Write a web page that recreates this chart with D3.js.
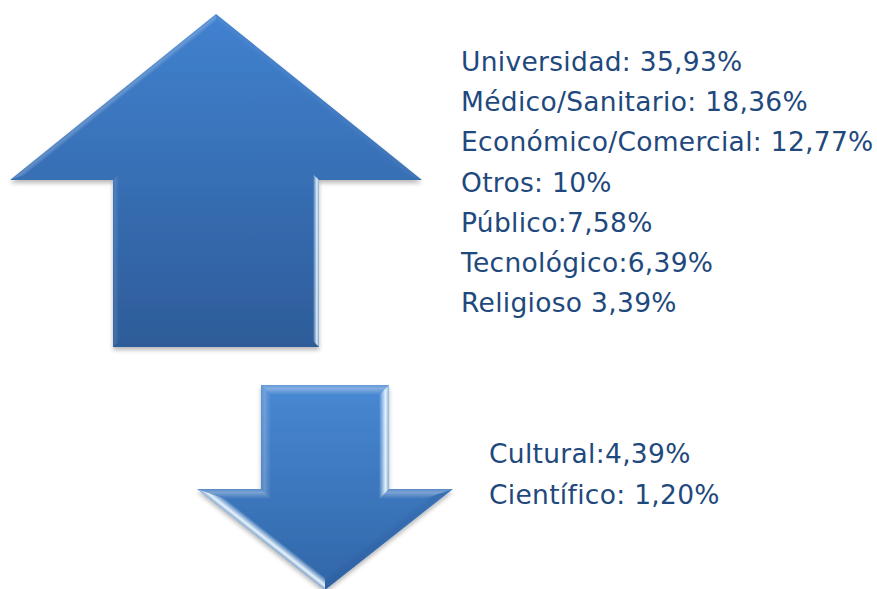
<!DOCTYPE html>
<html><head><meta charset="utf-8">
<script src="https://cdnjs.cloudflare.com/ajax/libs/d3/7.8.5/d3.min.js"></script>
<style>html,body{margin:0;padding:0;background:#fff;}svg{display:block;}</style>
</head><body>
<script>
// Data
const upCategories = ["Universidad", "Médico/Sanitario", "Económico/Comercial", "Otros", "Público", "Tecnológico", "Religioso"];
const upValues = [35.93, 18.36, 12.77, 10, 7.58, 6.39, 3.39];
const upDecimals = [2, 2, 2, 0, 2, 2, 2];
const upSeparators = [": ", ": ", ": ", ": ", ":", ":", " "];
const downCategories = ["Cultural", "Científico"];
const downValues = [4.39, 1.20];
const downDecimals = [2, 2];
const downSeparators = [":", ": "];

const W = 877, H = 589;
const svg = d3.select("body").append("svg").attr("width", W).attr("height", H);
const defs = svg.append("defs");

function fmt(v, d) { return d3.format("." + d + "f")(v).replace(".", ","); }

function grad(id, c1, c2) {
  const g = defs.append("linearGradient").attr("id", id).attr("x1", 0).attr("y1", 0).attr("x2", 0).attr("y2", 1);
  g.append("stop").attr("offset", "0%").attr("stop-color", c1);
  g.append("stop").attr("offset", "100%").attr("stop-color", c2);
}
grad("gUp", "#4181cf", "#2d5c99");
grad("gDown", "#4888d3", "#3166a8");
const f = defs.append("filter").attr("id", "shadow").attr("x", "-10%").attr("y", "-10%").attr("width", "120%").attr("height", "130%");
f.append("feDropShadow").attr("dx", 0).attr("dy", 3).attr("stdDeviation", 2).attr("flood-color", "#000").attr("flood-opacity", 0.28);

function inset(P, d) {
  const n = P.length;
  const lines = P.map((p, i) => {
    const q = P[(i + 1) % n];
    const dx = q[0] - p[0], dy = q[1] - p[1], L = Math.hypot(dx, dy);
    const nx = -dy / L, ny = dx / L;
    return { p: [p[0] + d * nx, p[1] + d * ny], e: [dx / L, dy / L] };
  });
  return P.map((_, i) => {
    const a = lines[(i - 1 + n) % n], b = lines[i];
    const den = a.e[0] * b.e[1] - a.e[1] * b.e[0];
    const t = ((b.p[0] - a.p[0]) * b.e[1] - (b.p[1] - a.p[1]) * b.e[0]) / den;
    return [a.p[0] + t * a.e[0], a.p[1] + t * a.e[1]];
  });
}

let gradCount = 0;
function drawArrow(P, gid, d, colorFn) {
  const g = svg.append("g");
  const line = d3.line();
  g.append("path").attr("d", line(P) + "Z").attr("fill", "url(#" + gid + ")").attr("filter", "url(#shadow)");
  const Q = inset(P, d);
  const n = P.length;
  for (let i = 0; i < n; i++) {
    const j = (i + 1) % n;
    const dx = P[j][0] - P[i][0], dy = P[j][1] - P[i][1], L = Math.hypot(dx, dy);
    const ox = dy / L, oy = -dx / L;
    const [col, op] = colorFn(ox, oy);
    if (op <= 0) continue;
    const mx = (P[i][0] + P[j][0]) / 2, my = (P[i][1] + P[j][1]) / 2;
    const id = "bv" + (gradCount++);
    const lg = defs.append("linearGradient").attr("id", id).attr("gradientUnits", "userSpaceOnUse")
      .attr("x1", mx).attr("y1", my).attr("x2", mx - ox * d).attr("y2", my - oy * d);
    lg.append("stop").attr("offset", "0%").attr("stop-color", col).attr("stop-opacity", op * 0.45);
    lg.append("stop").attr("offset", "35%").attr("stop-color", col).attr("stop-opacity", op);
    lg.append("stop").attr("offset", "100%").attr("stop-color", col).attr("stop-opacity", 0);
    g.append("path").attr("d", line([P[i], P[j], Q[j], Q[i]]) + "Z").attr("fill", "url(#" + id + ")");
  }
}

function upColors(ox, oy) {
  if (ox > 0.9) return ["#e8f6ff", 0.95];
  if (ox < -0.9) return ["#ffffff", 0.12];
  if (ox < 0 && oy < 0) return ["#ffffff", 0.22];
  if (ox > 0 && oy < 0) return ["#ffffff", 0.05];
  return ["#000000", 0];
}
function downColors(ox, oy) {
  if (ox > 0.9) return ["#e8f6ff", 0.95];
  if (oy < -0.9) return ["#ffffff", 0.32];
  if (ox < -0.9) return ["#ffffff", 0.22];
  if (ox < 0 && oy > 0) return ["#f0faff", 0.95];
  if (ox > 0 && oy > 0) return ["#0a1e46", 0.08];
  return ["#000000", 0];
}

// Up arrow (decorative shape)
const upX = d3.scaleLinear().domain([0, 1]).range([10, 422]);
const upY = d3.scaleLinear().domain([0, 1]).range([14, 347]);
const upShape = [[0.5, 0], [1, 0.4985], [0.75, 0.4985], [0.75, 1], [0.25, 1], [0.25, 0.4985], [0, 0.4985]]
  .map(([x, y]) => [upX(x), upY(y)]);
drawArrow(upShape, "gUp", 6, upColors);

const dnX = d3.scaleLinear().domain([0, 1]).range([197, 453]);
const dnY = d3.scaleLinear().domain([0, 1]).range([385, 590]);
const dnShape = [[0.25, 0], [0.75, 0], [0.75, 0.507], [1, 0.507], [0.5, 1], [0, 0.507], [0.25, 0.507]]
  .map(([x, y]) => [dnX(x), dnY(y)]);
drawArrow(dnShape, "gDown", 10, downColors);

// Text
const textColor = "#1f497d";
const fontSize = 26.5;
const font = "DejaVu Sans, Verdana, sans-serif";
const yUp = d3.scaleLinear().domain([0, upCategories.length - 1]).range([71, 312]);
svg.append("g").selectAll("text").data(upCategories).join("text")
  .attr("x", 461).attr("y", (d, i) => yUp(i))
  .attr("font-family", font).attr("font-size", fontSize).attr("letter-spacing", 0.3)
  .attr("fill", textColor)
  .text((d, i) => d + upSeparators[i] + fmt(upValues[i], upDecimals[i]) + "%");

const yDn = d3.scaleLinear().domain([0, downCategories.length - 1]).range([463, 504]);
svg.append("g").selectAll("text").data(downCategories).join("text")
  .attr("x", 489).attr("y", (d, i) => yDn(i))
  .attr("font-family", font).attr("font-size", fontSize).attr("letter-spacing", 0.3)
  .attr("fill", textColor)
  .text((d, i) => d + downSeparators[i] + fmt(downValues[i], downDecimals[i]) + "%");
</script>
</body></html>
